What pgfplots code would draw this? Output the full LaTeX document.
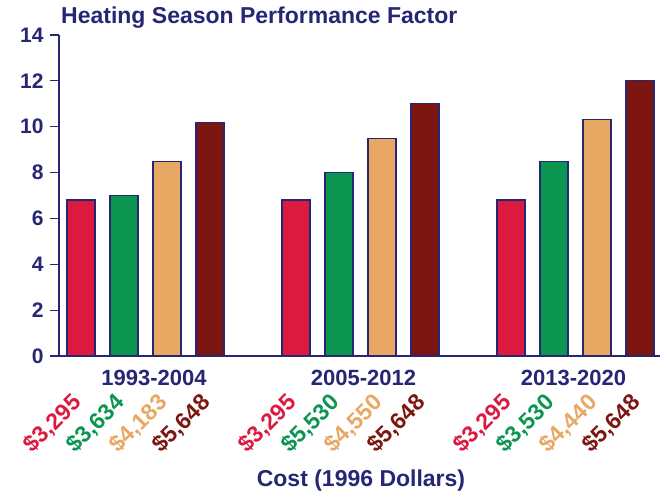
\documentclass[border=0pt]{standalone}
\usepackage{fontspec}
\setmainfont{Liberation Sans}
\usepackage{pgfplots}
\pgfplotsset{compat=1.18}
\definecolor{navy}{HTML}{262675}
\definecolor{cred}{HTML}{DC1A40}
\definecolor{cgreen}{HTML}{0A9650}
\definecolor{ctan}{HTML}{E8A864}
\definecolor{cmaroon}{HTML}{7D1510}
\begin{document}
\begin{tikzpicture}
\path[use as bounding box] (-59pt,-140pt) rectangle (609pt,356pt);
\begin{axis}[
  at={(0pt,0pt)}, anchor=south west,
  scale only axis, width=601pt, height=321pt,
  xmin=-0.512, xmax=13.465, ymin=0, ymax=14,
  ytick={0,2,...,14}, xtick=\empty,
  axis x line*=bottom, axis y line*=left,
  axis line style={-, navy, line width=1.2pt},
  tick style={navy, line width=1.2pt},
  major tick length=9pt, tick align=outside,
  yticklabel style={font=\fontsize{21}{21}\selectfont\bfseries, text=navy, xshift=-3pt},
  /pgf/number format/assume math mode=true,
  ybar, bar width=28pt, clip=false,
]
\addplot[bar shift=0pt, fill=cred, draw=navy, line width=1.2pt] coordinates {(0,6.8) (5,6.8) (10,6.8)};
\addplot[bar shift=0pt, fill=cgreen, draw=navy, line width=1.2pt] coordinates {(1,7.0) (6,8.0) (11,8.5)};
\addplot[bar shift=0pt, fill=ctan, draw=navy, line width=1.2pt] coordinates {(2,8.5) (7,9.5) (12,10.3)};
\addplot[bar shift=0pt, fill=cmaroon, draw=navy, line width=1.2pt] coordinates {(3,10.2) (8,11.0) (13,12.0)};
\tikzset{cost/.style={rotate=45, anchor=east, inner sep=0pt, font=\fontsize{23}{23}\selectfont\bfseries}}
\node[cost, text=cred] at ([xshift=-3pt,yshift=-43pt]axis cs:0,0) {\$3,295};
\node[cost, text=cgreen] at ([xshift=-3pt,yshift=-43pt]axis cs:1,0) {\$3,634};
\node[cost, text=ctan] at ([xshift=-3pt,yshift=-43pt]axis cs:2,0) {\$4,183};
\node[cost, text=cmaroon] at ([xshift=-3pt,yshift=-43pt]axis cs:3,0) {\$5,648};
\node[cost, text=cred] at ([xshift=-3pt,yshift=-43pt]axis cs:5,0) {\$3,295};
\node[cost, text=cgreen] at ([xshift=-3pt,yshift=-43pt]axis cs:6,0) {\$5,530};
\node[cost, text=ctan] at ([xshift=-3pt,yshift=-43pt]axis cs:7,0) {\$4,550};
\node[cost, text=cmaroon] at ([xshift=-3pt,yshift=-43pt]axis cs:8,0) {\$5,648};
\node[cost, text=cred] at ([xshift=-3pt,yshift=-43pt]axis cs:10,0) {\$3,295};
\node[cost, text=cgreen] at ([xshift=-3pt,yshift=-43pt]axis cs:11,0) {\$3,530};
\node[cost, text=ctan] at ([xshift=-3pt,yshift=-43pt]axis cs:12,0) {\$4,440};
\node[cost, text=cmaroon] at ([xshift=-3pt,yshift=-43pt]axis cs:13,0) {\$5,648};
\end{axis}
\tikzset{grp/.style={font=\fontsize{22}{22}\selectfont\bfseries, text=navy, inner sep=0pt}}
\node[grp] at (95pt,-22pt) {1993-2004};
\node[grp] at (304.5pt,-22pt) {2005-2012};
\node[grp] at (514.5pt,-22pt) {2013-2020};
\node[inner sep=0pt, font=\fontsize{23}{23}\selectfont\bfseries, text=navy] at (302pt,-125pt) {Cost (1996 Dollars)};
\node[anchor=base west, inner sep=0pt, font=\fontsize{23}{23}\selectfont\bfseries, text=navy] at (2pt,332pt) {Heating Season Performance Factor};
\end{tikzpicture}
\end{document}
